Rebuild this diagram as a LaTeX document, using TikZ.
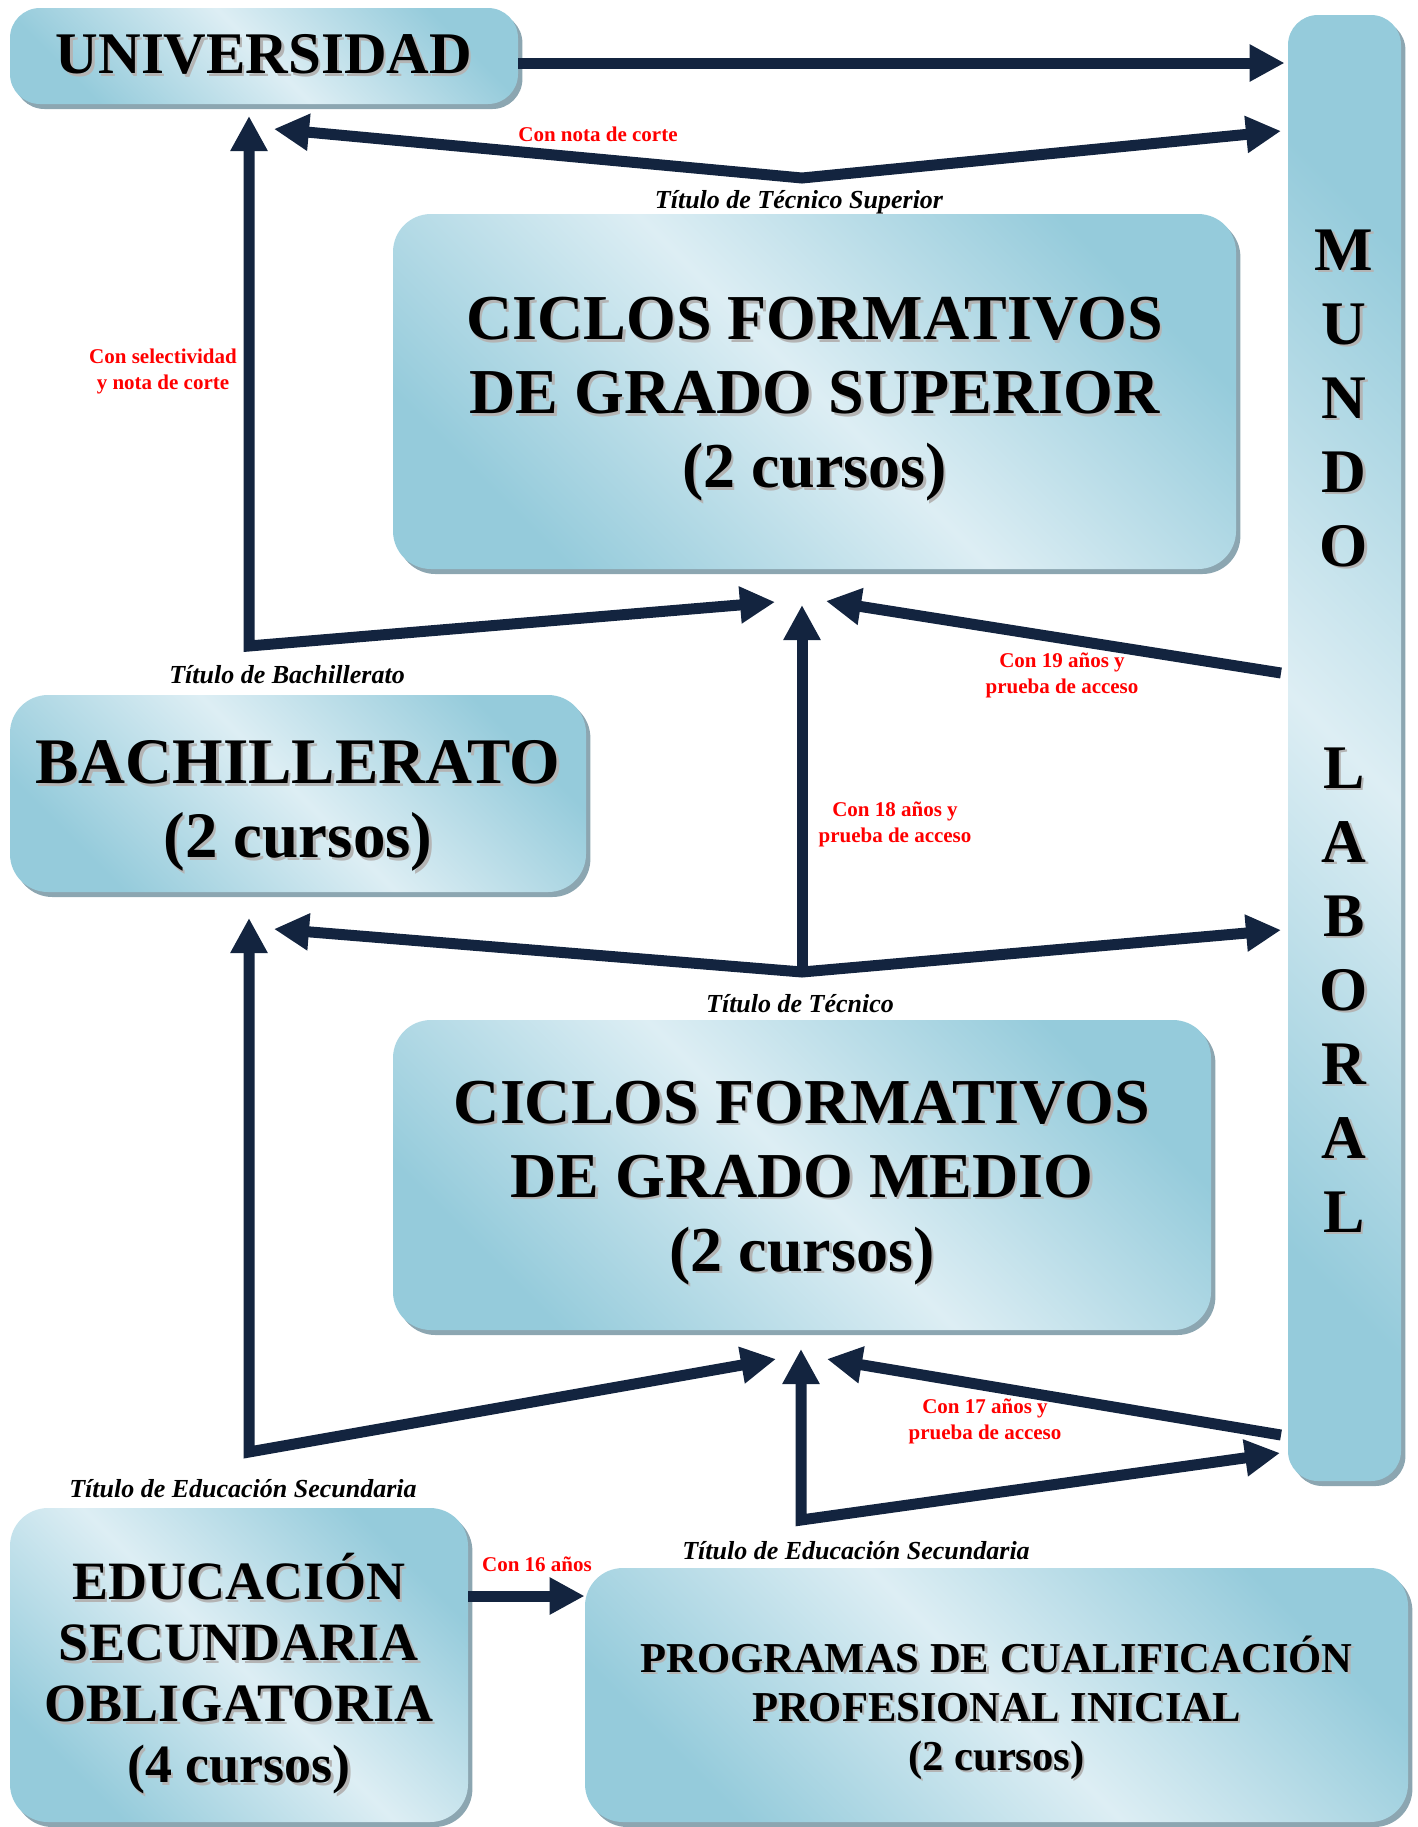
\documentclass[tikz,border=0pt]{standalone}
\usepackage{fontspec}
\setmainfont{Liberation Serif}
\usetikzlibrary{arrows.meta, shadows}

\definecolor{boxdark}{HTML}{95CBDB}
\definecolor{boxlight}{HTML}{DDEEF4}
\definecolor{boxshadow}{HTML}{8CA6B1}
\definecolor{arrowblue}{HTML}{13243F}
\definecolor{txtshadow}{HTML}{B4B4B4}

\newcommand\shd[1]{\makebox[0pt][l]{\hspace{1.2pt}\raisebox{-1.2pt}{\textcolor{txtshadow}{#1}}}#1}

\tikzset{
	box/.style={rectangle, rounded corners=19pt, inner sep=0pt, align=center,
		top color=boxdark, bottom color=boxdark, middle color=boxlight, shading angle=-45,
		drop shadow={shadow xshift=2.2pt, shadow yshift=-2.5pt, fill=boxshadow, opacity=1}},
	boxtxt/.style={align=center, inner sep=0pt},
	flow/.style={draw=arrowblue, line width=5.5pt, -{Triangle[length=17.5pt,width=17.5pt]}},
	flowtwo/.style={flow, {Triangle[length=17.5pt,width=17.5pt]}-{Triangle[length=17.5pt,width=17.5pt]}},
	titulo/.style={font=\fontsize{13}{15}\selectfont\bfseries\itshape, anchor=base, inner sep=0pt},
	cond/.style={font=\fontsize{10.5}{13}\selectfont\bfseries, text=red, align=center, inner sep=0pt},
}

\begin{document}
\begin{tikzpicture}[x=0.5pt, y=-0.5pt]
	\useasboundingbox (0,0) rectangle (1418,1827);

		%boxes
	\node[box, rounded corners=15pt, minimum width=254pt, minimum height=48pt,
		font=\fontsize{29.5}{36}\selectfont\bfseries] (uni) at (264,56) {\shd{UNIVERSIDAD}};
	\node[box, rounded corners=15pt, minimum width=56.5pt, minimum height=733pt] (mundo) at (1344.5,748) {};
	\node[box, minimum width=421.5pt, minimum height=177.5pt] (cfgs) at (814.5,391.5) {};
	\node[box, minimum width=288pt, minimum height=98.5pt] (bach) at (298,793.5) {};
	\node[box, minimum width=409pt, minimum height=155pt] (cfgm) at (802,1175) {};
	\node[box, minimum width=229pt, minimum height=157pt] (eso) at (239,1665) {};
	\node[box, minimum width=411.5pt, minimum height=127pt] (pcpi) at (996.5,1695) {};

		%box texts
	\node[boxtxt, font=\fontsize{31}{37}\selectfont\bfseries] (mundotxt) at (1344,732)
		{\shd{M}\\\shd{U}\\\shd{N}\\\shd{D}\\\shd{O}\\[74pt]\shd{L}\\\shd{A}\\\shd{B}\\\shd{O}\\\shd{R}\\\shd{A}\\\shd{L}};
	\node[boxtxt, font=\fontsize{32}{37}\selectfont\bfseries] (cfgstxt) at ([yshift=-4.5pt]cfgs.center)
		{\shd{CICLOS FORMATIVOS}\\\shd{DE GRADO SUPERIOR}\\\shd{(2 cursos)}};
	\node[boxtxt, font=\fontsize{32.5}{37}\selectfont\bfseries] (bachtxt) at ([yshift=-7pt]bach.center)
		{\shd{BACHILLERATO}\\\shd{(2 cursos)}};
	\node[boxtxt, font=\fontsize{32}{37}\selectfont\bfseries] (cfgmtxt) at ([yshift=-4.5pt]cfgm.center)
		{\shd{CICLOS FORMATIVOS}\\\shd{DE GRADO MEDIO}\\\shd{(2 cursos)}};
	\node[boxtxt, font=\fontsize{27}{30.5}\selectfont\bfseries] (esotxt) at ([yshift=-5pt]eso.center)
		{\shd{EDUCACIÓN}\\\shd{SECUNDARIA}\\\shd{OBLIGATORIA}\\\shd{(4 cursos)}};
	\node[boxtxt, font=\fontsize{21.3}{24.5}\selectfont\bfseries] (pcpitxt) at ([yshift=-7pt]pcpi.center)
		{\shd{PROGRAMAS DE CUALIFICACIÓN}\\\shd{PROFESIONAL INICIAL}\\\shd{(2 cursos)}};

		%arrow ends
	\coordinate (ua) at ([yshift=-3.5pt]uni.east);
	\coordinate (jsup) at (802,178);
	\coordinate (uniL) at (274,129);
	\coordinate (munR1) at (1281,131);
	\coordinate (jbach) at (249,646);
	\coordinate (uniB) at (249,116);
	\coordinate (cfgsL) at (775,602);
	\coordinate (cfgsM) at (802,605);
	\coordinate (cfgsR) at (826,601);
	\coordinate (mun19) at (1281,673);
	\coordinate (jtec) at (802,972);
	\coordinate (bachR) at (274,929);
	\coordinate (bachB) at (249,918);
	\coordinate (munR2) at (1281,930);
	\coordinate (jeso) at (249,1452);
	\coordinate (cfgmL) at (776,1359);
	\coordinate (cfgmM) at (801,1349);
	\coordinate (cfgmR) at (827,1359);
	\coordinate (jpcpi) at (801,1520);
	\coordinate (munR3) at (1280,1453);
	\coordinate (mun17) at (1281,1435);
	\coordinate (e16) at (eso.east |- 0,1596);

		%arrows
	\draw[flow, shorten >=1.5pt] (ua) -- (mundo.west |- ua);
	\draw[flowtwo] (uniL) -- (jsup) -- (munR1);
	\draw[flowtwo] (uniB) -- (jbach) -- (cfgsL);
	\draw[flow] (mun19) -- (cfgsR);
	\draw[flow] (jtec) -- (cfgsM);
	\draw[flowtwo] (bachR) -- (jtec) -- (munR2);
	\draw[flowtwo] (bachB) -- (jeso) -- (cfgmL);
	\draw[flow] (mun17) -- (cfgmR);
	\draw[flowtwo] (cfgmM) -- (jpcpi) -- (munR3);
	\draw[flow] (e16) -- (pcpi.west |- e16);

		%titles
	\node[titulo] (tsup) at (799,208) {Título de Técnico Superior};
	\node[titulo] (tbach) at (287,683) {Título de Bachillerato};
	\node[titulo] (ttec) at (800,1012) {Título de Técnico};
	\node[titulo] (teso) at (243,1497) {Título de Educación Secundaria};
	\node[titulo] (tpcpi) at (856,1559) {Título de Educación Secundaria};

		%conditions
	\node[cond, anchor=base] (cnota) at (598,141) {Con nota de corte};
	\node[cond] (csel) at (163,371) {Con selectividad\\y nota de corte};
	\node[cond] (c19) at (1062,675) {Con 19 años y\\prueba de acceso};
	\node[cond] (c18) at (895,824) {Con 18 años y\\prueba de acceso};
	\node[cond] (c17) at (985,1421) {Con 17 años y\\prueba de acceso};
	\node[cond, anchor=base] (c16) at (537,1571) {Con 16 años};
\end{tikzpicture}
\end{document}
